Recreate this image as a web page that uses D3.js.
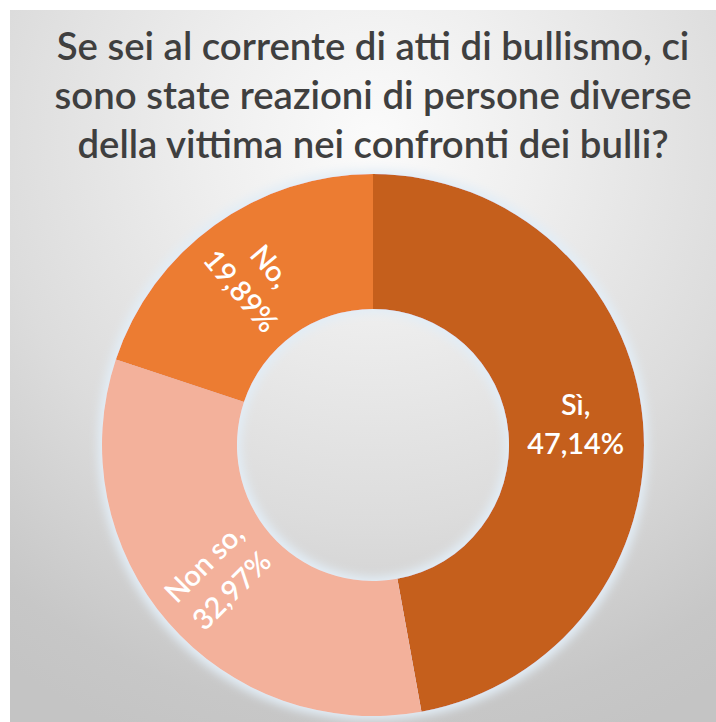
<!DOCTYPE html>
<html>
<head>
<meta charset="utf-8">
<script src="https://cdn.jsdelivr.net/npm/d3@7"></script>
<style>
  html, body { margin: 0; padding: 0; background: #ffffff; }
  svg { display: block; }
</style>
</head>
<body>
<svg id="chart" width="716" height="722"></svg>
<script>
// ---- data ----
const categories = ["Sì", "Non so", "No"];
const values = [47.14, 32.97, 19.89];
const valueLabels = ["47,14%", "32,97%", "19,89%"];
const titleLines = [
  "Se sei al corrente di atti di bullismo, ci",
  "sono state reazioni di persone diverse",
  "della vittima nei confronti dei bulli?"
];
const colors = ["#C55F1C", "#F3B19B", "#EC7C30"];

// ---- layout ----
const W = 716, H = 722;
const svg = d3.select("#chart");
const defs = svg.append("defs");

const bg = defs.append("radialGradient")
  .attr("id", "bg").attr("gradientUnits", "userSpaceOnUse")
  .attr("cx", 373).attr("cy", 140).attr("r", 640);
[[0, "#fbfbfb"], [0.25, "#efefef"], [0.6, "#dcdcdc"], [0.9, "#c7c7c7"], [1, "#c4c4c4"]]
  .forEach(([o, c]) => bg.append("stop").attr("offset", o).attr("stop-color", c));

const glow = defs.append("filter").attr("id", "glow")
  .attr("x", "-20%").attr("y", "-20%").attr("width", "140%").attr("height", "140%");
glow.append("feMorphology").attr("in", "SourceAlpha").attr("operator", "dilate").attr("radius", 4).attr("result", "d");
glow.append("feGaussianBlur").attr("in", "d").attr("stdDeviation", 5).attr("result", "b");
glow.append("feFlood").attr("flood-color", "#e2edf6").attr("flood-opacity", 1);
glow.append("feComposite").attr("in2", "b").attr("operator", "in").attr("result", "g");
const m = glow.append("feMerge");
m.append("feMergeNode").attr("in", "g");
m.append("feMergeNode").attr("in", "SourceGraphic");

svg.append("rect").attr("x", 10).attr("y", 10).attr("width", W - 10).attr("height", H - 10)
  .attr("fill", "url(#bg)");

// title
const titleFont = "Lato, 'Open Sans', sans-serif";
const title = svg.append("g").attr("font-family", titleFont).attr("font-weight", 600)
  .attr("fill", "#3f3f3f").attr("text-anchor", "middle");
const tLines = title.selectAll("text").data(titleLines).join("text")
  .attr("x", 373).attr("y", (d, i) => 60 + i * 49)
  .attr("font-size", 32).text(d => d);
const w0 = tLines.nodes()[0].getComputedTextLength();
tLines.attr("font-size", 32 * 633 / w0);

// donut
const cx = 373, cy = 445, rOuter = 271, rInner = 136;
const pie = d3.pie().sort(null).value(d => d)(values);
const arc = d3.arc().innerRadius(rInner).outerRadius(rOuter);
const g = svg.append("g").attr("transform", `translate(${cx},${cy})`);
g.append("g").attr("filter", "url(#glow)")
  .selectAll("path").data(pie).join("path")
  .attr("d", arc).attr("fill", (d, i) => colors[i]);

// labels
const labelArc = d3.arc().innerRadius((rInner + rOuter) / 2).outerRadius((rInner + rOuter) / 2);
const lg = g.append("g").attr("font-family", titleFont).attr("font-weight", 600)
  .attr("fill", "#ffffff").attr("text-anchor", "middle");
const lineGap = 39;
pie.forEach((d, i) => {
  const [x, y] = labelArc.centroid(d);
  const midDeg = (d.startAngle + d.endAngle) / 2 * 180 / Math.PI;
  let rot = midDeg - 274;
  if (Math.abs(rot) > 90) rot = 0;
  const t = lg.append("g").attr("transform", `translate(${x},${y}) rotate(${rot})`);
  const txt = t.append("text").attr("font-size", 26);
  txt.append("tspan").attr("x", 0).attr("y", -lineGap / 2 + 8).text(categories[i] + ",");
  txt.append("tspan").attr("x", 0).attr("y", lineGap / 2 + 8).text(valueLabels[i]);
});
// size labels so "47,14%" is ~97px wide
const sample = lg.select("text").selectAll("tspan").nodes()[1];
const sw = sample.getComputedTextLength();
lg.selectAll("text").attr("font-size", 26 * 97 / sw);
</script>
</body>
</html>
